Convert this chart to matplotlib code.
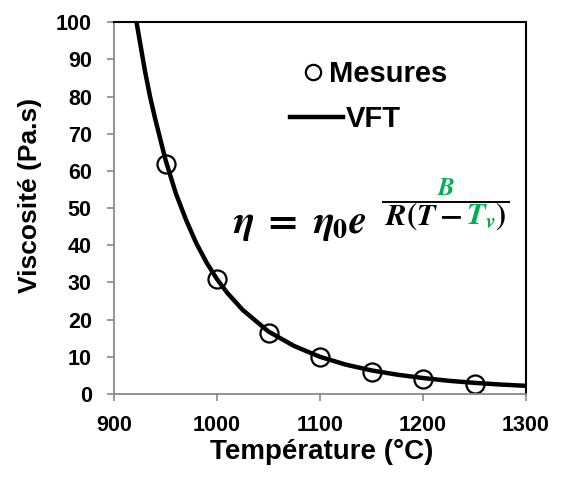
"""Viscosité mesurée vs modèle VFT."""
import matplotlib

matplotlib.use("Agg")
import matplotlib.pyplot as plt
from matplotlib.lines import Line2D

plt.rcParams["font.family"] = ["Liberation Sans", "DejaVu Sans"]
plt.rcParams["font.weight"] = "bold"
plt.rcParams["mathtext.fontset"] = "stix"

# points de mesure
mesure_temp = [950, 1000, 1050, 1100, 1150, 1200, 1250]
mesure_visc = [62, 31, 16.3, 10, 6, 4, 2.8]

# courbe VFT
vft_temp = [920, 925, 930, 935, 940, 950, 960, 970, 980, 990, 1000, 1010,
            1025, 1050, 1075, 1100, 1125, 1150, 1175, 1200, 1225, 1250, 1275, 1300]
vft_visc = [103, 95, 87, 80, 74, 63, 54, 46.8, 40.5, 35.3, 30.9, 27.2,
            22.6, 16.8, 12.9, 10.0, 7.9, 6.35, 5.2, 4.3, 3.55, 3.0, 2.55, 2.2]

x_ticks = [900, 1000, 1100, 1200, 1300]
y_ticks = list(range(0, 101, 10))

GREEN = "#00B050"
GRAY = "#898989"
W, H = 562, 478
AX_L, AX_R, AX_T, AX_B = 114, 526, 22.3, 394


def fx(x):
    return x / W


def fy(y):
    return 1 - y / H


fig = plt.figure(figsize=(W / 100, H / 100), dpi=100)
ax = fig.add_axes([fx(AX_L), fy(AX_B), (AX_R - AX_L) / W, (AX_B - AX_T) / H])

ax.plot(vft_temp, vft_visc, color="black", linewidth=3.2, solid_capstyle="butt")
ax.plot(mesure_temp, mesure_visc, linestyle="none", marker="o", markersize=13,
        markerfacecolor="none", markeredgecolor="black", markeredgewidth=1.6)

ax.set_xlim(900, 1300)
ax.set_ylim(0, 100)
ax.set_xticks(x_ticks)
ax.set_yticks(y_ticks)
ax.tick_params(labelsize=15.5, color=GRAY, length=5, width=1.2)
ax.tick_params(axis="x", pad=10)
ax.tick_params(axis="y", pad=11)

for side in ("left", "bottom"):
    ax.spines[side].set_color(GRAY)
    ax.spines[side].set_linewidth(1.3)
for side in ("top", "right"):
    ax.spines[side].set_color("black")
    ax.spines[side].set_linewidth(1.5)

ax.set_xlabel("Température (°C)", fontsize=20, fontweight="bold")
ax.set_ylabel("Viscosité (Pa.s)", fontsize=19, fontweight="bold")
ax.xaxis.set_label_coords((322 - AX_L) / (AX_R - AX_L), -(439 - AX_B) / (AX_B - AX_T))
ax.yaxis.set_label_coords(-(AX_L - 42) / (AX_R - AX_L), (AX_B - 195) / (AX_B - AX_T))

# légende : deux blocs pour garder le décalage d'Excel
h_mes = Line2D([], [], linestyle="none", marker="o", markersize=11,
               markerfacecolor="none", markeredgecolor="black", markeredgewidth=1.6)
h_vft = Line2D([], [], color="black", linewidth=3.2)
leg1 = ax.legend([h_mes], ["Mesures"], loc="center left", frameon=False,
                 fontsize=21, handlelength=0.5, handletextpad=0.3, borderpad=0,
                 borderaxespad=0, bbox_to_anchor=(fx(306), fy(74)),
                 bbox_transform=fig.transFigure)
ax.add_artist(leg1)
ax.legend([h_vft], ["VFT"], loc="center left", frameon=False,
          fontsize=21, handlelength=1.8, handletextpad=0.1, borderpad=0,
          borderaxespad=0, bbox_to_anchor=(fx(290), fy(119)),
          bbox_transform=fig.transFigure)

# équation VFT
fig.text(fx(233), fy(233), r"$\eta\;=\;\eta_0e$", fontsize=29, fontweight="normal",
         ha="left", va="baseline")

fig.canvas.draw()
renderer = fig.canvas.get_renderer()

x = 385
base = fy(225)
pieces = [(r"$R(T-$", "black"), (r"$\mathbfit{T}_{\mathbfit{v}}$", GREEN), (r"$)$", "black")]
for i, (txt, col) in enumerate(pieces):
    t = fig.text(fx(x), base, txt, fontsize=22, fontweight="normal", color=col,
                 ha="left", va="baseline")
    x = t.get_window_extent(renderer).x1 + (3 if i == 0 else 0)
x_end = x

fig.add_artist(Line2D([fx(383), fx(x_end + 3)], [fy(202), fy(202)],
                      color="black", linewidth=1.4, transform=fig.transFigure))
fig.text(fx((383 + x_end + 3) / 2), fy(195), r"$\mathbfit{B}$", fontsize=18,
         color=GREEN, ha="center", va="baseline")

fig.savefig("out.png", dpi=100)
plt.close(fig)
